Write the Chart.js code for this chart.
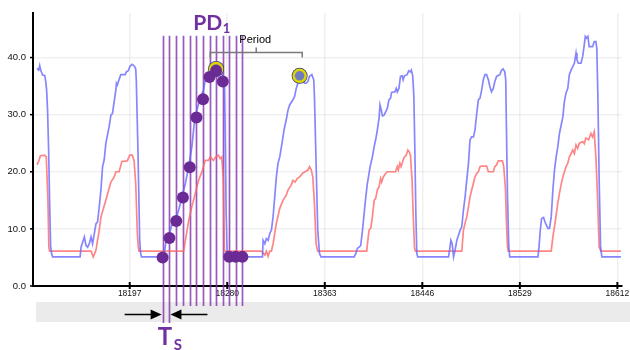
<!DOCTYPE html>
<html><head><meta charset="utf-8">
<script src="https://cdn.jsdelivr.net/npm/chart.js@4.4.1/dist/chart.umd.min.js"></script>
<style>html,body{margin:0;padding:0;background:#fff;}canvas{display:block;}</style>
</head><body>
<canvas id="c" width="630" height="350" style="width:630px;height:350px"></canvas>
<script>
const xTicks = [18197, 18280, 18363, 18446, 18529, 18612];
const yTicks = [0, 10, 20, 30, 40];

const blueX = [18118.1,18119.5,18120.4,18121.2,18122.9,18124.6,18125.4,18126.3,18127.1,18128.0,18128.8,18129.7,18130.5,18131.4,
18154.8,18155.6,18158.4,18159.8,18161.2,18162.6,18164.1,18165.4,18166.9,18168.3,18169.6,18171.1,18172.5,18173.9,18175.3,18176.7,18179.5,18181.0,18182.3,18185.2,18185.7,18186.5,18187.4,18189.4,18193.1,18194.2,18195.8,18197.3,18199.2,18201.3,18202.1,18202.6,18204.0,18205.5,18206.3,18207.0,
18226.0,18228.0,18230.2,18231.7,18233.0,18235.9,18238.7,18241.5,18244.4,18247.2,18249.9,18252.2,18254.2,18257.0,18259.8,18261.8,18264.1,18266.8,18269.1,18271.1,18273.1,18275.3,18277.6,18278.2,18279.0,18279.9,18281.0,
18310.0,18310.5,18312.0,18313.3,18314.8,18316.2,18317.6,18319.0,18320.4,18321.8,18323.2,18324.7,18326.6,18328.3,18330.2,18331.7,18333.1,18335.9,18337.3,18338.7,18340.1,18341.6,18342.9,18344.4,18345.8,18347.1,18348.6,18350.0,18352.0,18353.6,18354.2,18355.6,18357.0,18358.5,18359.8,
18388.1,18389.4,18390.8,18392.3,18393.6,18395.1,18396.5,18397.9,18399.3,18401.6,18403.5,18405.0,18406.3,18407.7,18409.2,18410.0,18411.1,18412.0,18413.4,18414.8,18416.2,18417.6,18419.0,18419.8,18422.7,18423.8,18424.7,18426.1,18427.4,18428.9,18429.7,18430.8,18433.1,18434.5,18435.9,18436.7,18437.9,18438.8,18439.6,18440.5,18441.3,18442.1,
18468.3,18469.2,18470.3,18471.4,18472.6,18473.9,18475.4,18478.2,18479.6,18481.0,18482.4,18483.8,18485.3,18486.6,18488.0,18489.5,18490.8,18492.3,18493.7,18495.1,18496.5,18497.9,18499.3,18500.7,18502.2,18503.5,18504.9,18506.4,18507.7,18509.2,18512.0,18513.4,18514.8,18516.2,18517.0,18517.6,18518.5,18519.6,18520.4,
18544.4,18545.3,18546.4,18547.5,18549.2,18550.8,18552.9,18554.2,18555.7,18557.1,18558.5,18559.9,18561.3,18562.7,18565.6,18566.9,18568.3,18569.8,18571.1,18572.6,18574.0,18575.4,18576.8,18577.6,18578.7,18581.0,18582.5,18583.8,18584.7,18585.8,18586.9,18588.0,18590.9,18592.3,18593.7,18594.5,18595.4,18596.5,18597.7,18598.8,18615.0];
const blueY = [38.1,37.8,38.6,37.8,36.9,36.9,36.0,34.3,30.8,23.8,15.0,7.0,5.7,5.1,
5.1,6.8,8.6,7.1,6.8,7.4,8.6,7.4,9.2,10.9,11.2,13.9,16.8,20.9,22.1,25.0,27.9,29.9,30.2,34.3,35.5,35.2,35.8,37.0,37.0,37.5,37.7,38.5,38.8,38.4,38.0,36.0,23.9,8.0,5.7,5.1,
5.1,8.0,8.9,9.8,10.9,11.5,13.3,15.6,18.0,20.9,24.4,29.0,30.8,32.9,34.3,36.7,37.0,37.9,38.4,38.7,37.9,37.3,36.1,27.9,13.3,5.7,5.1,
5.1,8.0,7.4,8.3,8.0,9.2,9.8,12.1,15.6,19.1,21.5,22.6,25.0,27.3,29.1,30.8,31.7,32.6,33.2,34.6,35.5,36.7,37.3,36.1,35.5,35.5,35.8,36.7,37.0,36.1,33.2,21.5,9.8,5.7,5.1,
5.1,5.7,6.6,6.8,7.1,9.8,12.7,15.6,18.0,20.9,22.6,24.4,25.6,27.3,29.4,31.7,30.8,29.8,29.9,30.5,31.1,32.6,32.9,33.9,34.0,34.6,34.0,34.6,36.7,36.8,36.1,36.8,37.0,37.7,37.5,37.8,36.7,33.2,24.4,12.7,5.7,5.1,
5.1,6.3,8.0,7.4,5.1,6.3,8.0,9.8,10.4,13.3,15.6,18.5,21.5,25.6,26.1,26.1,27.3,30.2,32.6,32.9,34.3,36.1,37.0,37.0,36.1,34.9,34.0,34.6,35.8,36.7,37.0,37.8,38.0,37.5,36.1,27.3,15.6,6.8,5.1,
5.1,6.8,9.8,11.8,12.0,11.0,10.1,10.1,12.1,16.8,20.3,22.6,24.4,26.7,29.6,32.3,33.8,34.6,37.0,37.8,38.4,39.0,40.8,39.6,39.0,39.0,40.2,42.2,43.7,43.4,43.7,41.9,41.9,42.8,42.8,41.6,33.2,18.5,6.8,5.1,5.1];

const redX = [18118.1,18119.8,18121.0,18124.6,18126.0,18127.4,18128.2,18128.8,
18164.1,18166.0,18168.3,18169.6,18171.1,18172.5,18176.7,18179.5,18181.0,18183.8,18185.2,18188.0,18190.3,18195.0,18197.0,18199.2,18200.7,18202.1,18203.5,18204.3,18204.9,
18242.9,18244.4,18247.2,18249.9,18252.8,18255.6,18258.4,18261.3,18264.1,18265.5,18268.3,18270.2,18272.5,18273.9,18275.3,18276.7,18277.6,
18309.1,18312.0,18313.3,18314.8,18316.2,18317.6,18319.0,18321.8,18324.7,18327.4,18330.2,18331.7,18334.5,18335.9,18337.8,18339.5,18341.6,18344.4,18346.3,18348.6,18350.0,18351.4,18352.8,18354.2,18355.6,18357.0,
18398.7,18399.3,18400.7,18402.1,18403.5,18405.0,18406.3,18407.7,18409.2,18410.5,18411.4,18412.8,18414.8,18416.2,18423.2,18424.7,18425.5,18426.9,18428.0,18429.7,18430.8,18432.3,18433.7,18434.8,18435.9,18437.3,18438.2,18439.3,18440.1,
18479.6,18481.0,18482.4,18483.8,18485.3,18486.6,18488.0,18489.5,18490.8,18492.3,18493.7,18495.1,18496.5,18500.7,18502.2,18506.4,18507.7,18509.2,18510.6,18514.2,18515.3,18516.8,18517.6,18518.5,18519.1,
18555.7,18557.1,18558.5,18559.9,18561.3,18562.7,18564.1,18565.6,18568.3,18569.8,18571.1,18572.6,18574.0,18575.4,18576.8,18578.2,18579.6,18582.5,18583.8,18585.2,18587.5,18589.5,18590.9,18592.3,18593.7,18595.1,18596.5,18597.9,18615.0];
const redY = [21.2,22.0,22.8,22.9,22.6,15.0,6.8,6.1,
6.1,5.1,6.3,8.0,9.8,12.1,15.0,17.1,18.2,19.1,20.0,20.0,21.8,21.9,22.9,22.9,22.0,18.0,9.2,6.8,6.1,
6.1,8.0,11.5,13.9,16.2,18.5,20.0,22.0,22.0,22.6,22.0,22.6,22.9,22.3,22.6,18.5,6.1,
6.1,5.4,6.1,5.2,6.1,6.1,7.4,11.0,13.6,15.0,15.9,16.8,17.7,18.5,18.2,18.8,19.1,19.8,20.0,20.3,20.9,20.4,19.1,14.5,7.4,6.1,
6.1,7.4,9.8,10.1,12.1,15.0,15.3,16.8,17.4,18.8,18.2,19.1,19.7,20.0,20.0,20.9,20.3,21.5,20.9,22.1,22.6,22.9,23.8,23.5,22.9,18.5,12.7,6.8,6.1,
6.1,9.8,11.0,12.1,13.9,15.6,16.8,18.0,19.1,19.7,20.0,20.9,21.0,21.0,20.0,20.0,20.9,21.2,21.9,21.9,20.9,16.8,11.0,6.8,6.1,
6.1,8.6,10.4,12.4,14.5,16.2,17.7,19.1,20.9,21.5,22.6,23.2,23.8,23.2,24.7,24.1,25.0,25.3,24.9,25.9,25.6,26.7,26.1,27.0,22.6,15.6,6.8,6.1,6.1];

const sampleX = [18225.0,18230.8,18236.6,18242.3,18248.1,18253.8,18259.4,18264.9,18270.5,18276.2,18281.6,18287.2,18292.9];
const sampleY = [5.0,8.4,11.4,15.5,20.8,29.5,32.7,36.6,37.7,35.8,5.1,5.1,5.1];

const peakX = [18270.5, 18341.6];
const peakY = [38.0, 36.8];

const periodStart = 18265.5;
const periodEnd = 18343.8;
const sampleLineTop = 43.8;

const pts = (xs, ys) => xs.map((x, i) => ({x, y: ys[i]}));
const PURPLE = '#7030a0';

const deco = {
  id: 'deco',
  beforeDraw(chart) {
    const {ctx, chartArea: a} = chart;
    ctx.save();
    ctx.fillStyle = '#ebebeb';
    ctx.fillRect(a.left + 3, a.bottom + 16, 630 - a.left, 20);
    ctx.restore();
  },
  beforeDatasetsDraw(chart) {
    const {ctx, chartArea: a, scales: {x, y}} = chart;
    ctx.save();
    ctx.strokeStyle = 'rgba(128,48,172,0.8)';
    ctx.lineWidth = 1.7;
    const top = y.getPixelForValue(sampleLineTop);
    sampleX.forEach((v, i) => {
      const px = Math.round(x.getPixelForValue(v)) + 0.5;
      const bot = i < 2 ? a.bottom + 37 : a.bottom + 20;
      ctx.beginPath(); ctx.moveTo(px, top); ctx.lineTo(px, bot); ctx.stroke();
    });
    ctx.restore();
  },
  afterDraw(chart) {
    const {ctx, chartArea: a, scales: {x, y}} = chart;
    ctx.save();
    ctx.strokeStyle = '#000';
    ctx.lineWidth = 2;
    xTicks.forEach(v => {
      const px = x.getPixelForValue(v);
      ctx.beginPath(); ctx.moveTo(px, a.bottom - 4); ctx.lineTo(px, a.bottom + 3); ctx.stroke();
    });
    ctx.lineWidth = 1.5;
    yTicks.forEach(v => {
      const py = y.getPixelForValue(v);
      ctx.beginPath(); ctx.moveTo(a.left - 3, py); ctx.lineTo(a.left + 1, py); ctx.stroke();
    });
    const bx1 = x.getPixelForValue(periodStart), bx2 = x.getPixelForValue(periodEnd);
    const by = a.top + 39.5;
    const bm = (bx1 + bx2) / 2;
    ctx.strokeStyle = '#7a7a7a';
    ctx.lineWidth = 1.5;
    ctx.beginPath();
    ctx.moveTo(bx1, by + 5); ctx.lineTo(bx1, by); ctx.lineTo(bx2, by); ctx.lineTo(bx2, by + 5);
    ctx.moveTo(bm, by); ctx.lineTo(bm, by - 5);
    ctx.stroke();
    ctx.fillStyle = '#000';
    ctx.font = '11px "Liberation Sans"';
    ctx.textAlign = 'center';
    ctx.textBaseline = 'alphabetic';
    ctx.fillText('Period', bm - 1, a.top + 30);
    const pdC = x.getPixelForValue(sampleX[7]);
    ctx.fillStyle = PURPLE;
    ctx.font = 'bold 21px Lato';
    ctx.textAlign = 'left';
    const wPD = ctx.measureText('PD').width;
    ctx.font = 'bold 13px Lato';
    const w1 = ctx.measureText('1').width;
    const pdL = pdC - (wPD + w1) / 2 + 2;
    ctx.font = 'bold 21px Lato';
    ctx.fillText('PD', pdL, a.top + 17);
    ctx.font = 'bold 13px Lato';
    ctx.fillText('1', pdL + wPD + 0.5, a.top + 20);
    const s0 = x.getPixelForValue(sampleX[0]), s1 = x.getPixelForValue(sampleX[1]);
    const ay = a.bottom + 28.5;
    ctx.strokeStyle = '#000'; ctx.fillStyle = '#000'; ctx.lineWidth = 1.5;
    ctx.beginPath(); ctx.moveTo(s0 - 38, ay); ctx.lineTo(s0 - 10, ay); ctx.stroke();
    ctx.beginPath(); ctx.moveTo(s0 - 1, ay); ctx.lineTo(s0 - 12, ay - 5); ctx.lineTo(s0 - 12, ay + 5); ctx.closePath(); ctx.fill();
    ctx.beginPath(); ctx.moveTo(s1 + 10, ay); ctx.lineTo(s1 + 38, ay); ctx.stroke();
    ctx.beginPath(); ctx.moveTo(s1 + 1, ay); ctx.lineTo(s1 + 12, ay - 5); ctx.lineTo(s1 + 12, ay + 5); ctx.closePath(); ctx.fill();
    ctx.fillStyle = PURPLE;
    ctx.font = 'bold 24px Lato';
    const wT = ctx.measureText('T').width;
    const tC = (s0 + s1) / 2;
    ctx.fillText('T', tC - wT / 2 - 1, a.bottom + 59);
    ctx.font = 'bold 15px Lato';
    ctx.fillText('S', tC + wT / 2 + 0.5, a.bottom + 64);
    ctx.restore();
  }
};

new Chart(document.getElementById('c'), {
  type: 'line',
  data: {
    datasets: [
      { data: pts(sampleX, sampleY), showLine: false, pointRadius: 6, pointBackgroundColor: '#6b2b95', pointBorderWidth: 0, order: 0 },
      { data: pts(peakX, peakY), showLine: false, pointRadius: 6, pointBorderWidth: 2.5, pointBorderColor: '#e2d400', pointBackgroundColor: '#6d7cc0', order: 1 },
      { data: pts(peakX, peakY), showLine: false, pointRadius: 8, pointBorderWidth: 0, pointBackgroundColor: '#2f3d85', order: 2 },
      { data: pts(blueX, blueY), borderColor: 'rgba(100,100,255,0.78)', borderWidth: 1.7, pointRadius: 0, tension: 0, order: 3 },
      { data: pts(redX, redY), borderColor: 'rgba(255,100,100,0.78)', borderWidth: 1.7, pointRadius: 0, tension: 0, order: 4 }
    ]
  },
  options: {
    responsive: false,
    devicePixelRatio: 1,
    animation: false,
    events: [],
    layout: { padding: { left: 0, top: 13, right: 5, bottom: 0 } },
    plugins: { legend: { display: false }, tooltip: { enabled: false } },
    scales: {
      x: {
        type: 'linear', min: 18114.7, max: 18615.5,
        afterBuildTicks(s) { s.ticks = xTicks.map(v => ({ value: v })); },
        afterFit(s) { s.height = 64; s.paddingLeft = 0; s.paddingRight = 0; },
        grid: { color: 'rgba(0,0,0,0.06)', lineWidth: 1.5, drawTicks: false },
        border: { display: true, color: '#000', width: 2 },
        ticks: { autoSkip: false, maxRotation: 0, padding: 3, color: '#111', font: { family: 'Liberation Sans', size: 8.5 }, callback: v => String(v) }
      },
      y: {
        type: 'linear', min: 0, max: 47.8,
        afterBuildTicks(s) { s.ticks = yTicks.map(v => ({ value: v })); },
        afterFit(s) { s.width = 33; s.paddingTop = 0; s.paddingBottom = 0; },
        grid: { color: 'rgba(0,0,0,0.06)', lineWidth: 1.5, drawTicks: false },
        border: { display: true, color: '#000', width: 2 },
        ticks: { padding: 7, color: '#111', font: { family: 'Liberation Sans', size: 9.5 }, callback: v => Number(v).toFixed(1) }
      }
    }
  },
  plugins: [deco]
});
</script>
</body></html>
